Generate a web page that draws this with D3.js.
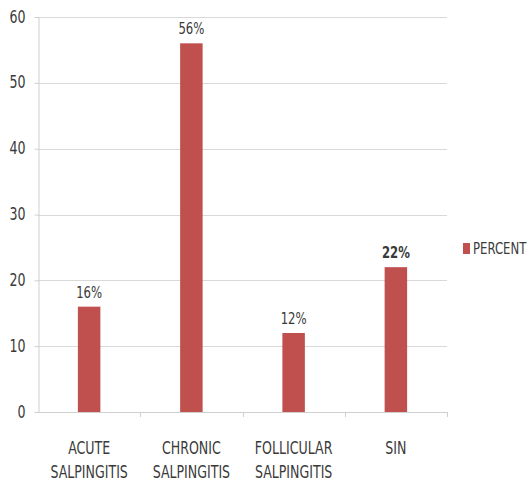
<!DOCTYPE html>
<html>
<head>
<meta charset="utf-8">
<script src="https://cdn.jsdelivr.net/npm/d3@7"></script>
<style>
  html, body { margin: 0; padding: 0; background: #fff; }
  svg text { font-family: "Liberation Sans Narrow", "DejaVu Sans Condensed", "Arial Narrow", sans-serif; fill: #3a3a3a; }
</style>
</head>
<body>
<svg id="chart" width="531" height="485"></svg>
<script>
// Salpingitis types, share of cases (%)
const categories = ["ACUTE SALPINGITIS", "CHRONIC SALPINGITIS", "FOLLICULAR SALPINGITIS", "SIN"];
const categoryLines = [["ACUTE", "SALPINGITIS"], ["CHRONIC", "SALPINGITIS"], ["FOLLICULAR", "SALPINGITIS"], ["SIN"]];
const percent = [16, 56, 12, 22];
const yTicks = [0, 10, 20, 30, 40, 50, 60];
const seriesName = "PERCENT";
const highlighted = "SIN";

const svg = d3.select("#chart");
const red = "#c0504d";
const stretch = 1.25; // tall, narrow lettering

const x = d3.scaleBand().domain(categories).range([38, 447]).padding(0);
const y = d3.scaleLinear().domain([0, 60]).range([412, 17]);
const barW = x.bandwidth() * 0.22;

// horizontal gridlines
svg.append("g").selectAll("line").data(yTicks.filter(d => d > 0)).join("line")
  .attr("x1", 38).attr("x2", 447)
  .attr("y1", d => Math.round(y(d)) + 0.5).attr("y2", d => Math.round(y(d)) + 0.5)
  .attr("stroke", "#d9d9d9").attr("stroke-width", 1);

// y axis
const yAxis = svg.append("g").attr("transform", "translate(38.5,0)")
  .call(d3.axisLeft(y).tickValues(yTicks).tickSize(4).tickSizeOuter(0).tickPadding(9).tickFormat(d3.format("d")));
yAxis.select(".domain").attr("stroke", "#cfcfcf");
yAxis.selectAll(".tick line").attr("stroke", "#cfcfcf");
yAxis.selectAll(".tick text")
  .attr("font-size", 14).attr("fill", "#3a3a3a")
  .attr("dy", null).attr("y", 0)
  .attr("transform", `translate(0,5) scale(1,${stretch})`);

// x axis line and ticks at category boundaries
const xg = svg.append("g");
xg.append("line").attr("x1", 38).attr("x2", 447)
  .attr("y1", y(0) + 0.5).attr("y2", y(0) + 0.5).attr("stroke", "#cfcfcf");
xg.selectAll("line.tk").data(categories).join("line").attr("class", "tk")
  .attr("x1", d => Math.round(x(d) + x.bandwidth()) + 0.5)
  .attr("x2", d => Math.round(x(d) + x.bandwidth()) + 0.5)
  .attr("y1", y(0)).attr("y2", y(0) + 5).attr("stroke", "#cfcfcf");

// bars
svg.append("g").selectAll("rect").data(categories).join("rect")
  .attr("x", d => x(d) + (x.bandwidth() - barW) / 2)
  .attr("width", barW)
  .attr("y", (d, i) => y(percent[i]))
  .attr("height", (d, i) => y(0) - y(percent[i]))
  .attr("fill", red);

// value labels
svg.append("g").selectAll("text").data(categories).join("text")
  .attr("transform", (d, i) => `translate(${x(d) + x.bandwidth() / 2},${y(percent[i]) - 9}) scale(1,${stretch})`)
  .attr("text-anchor", "middle")
  .attr("font-size", 13)
  .attr("font-weight", d => d === highlighted ? "bold" : "normal")
  .text((d, i) => percent[i] + "%");

// category labels
const cl = svg.append("g").selectAll("g").data(categories).join("g");
cl.each(function(d, i) {
  d3.select(this).selectAll("text").data(categoryLines[i]).join("text")
    .attr("transform", (t, j) => `translate(${x(d) + x.bandwidth() / 2},${454 + j * 24}) scale(1,${stretch})`)
    .attr("text-anchor", "middle")
    .attr("font-size", 14)
    .text(t => t);
});

// legend
const lg = svg.append("g");
lg.append("rect").attr("x", 463).attr("y", 243).attr("width", 7).attr("height", 11).attr("fill", red);
lg.append("text").attr("transform", `translate(473,254) scale(1,${stretch})`)
  .attr("font-size", 13).text(seriesName);
</script>
</body>
</html>
